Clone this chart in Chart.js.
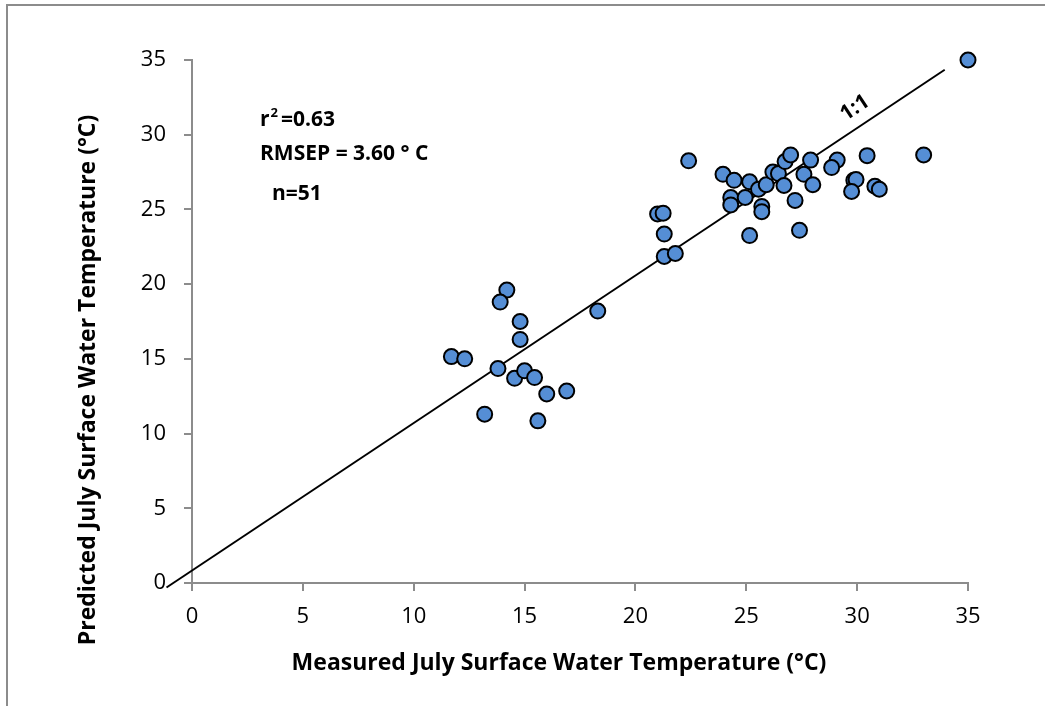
<!DOCTYPE html>
<html>
<head>
<meta charset="utf-8">
<script src="https://cdn.jsdelivr.net/npm/chart.js@4.4.1/dist/chart.umd.min.js"></script>
<style>
  html, body { margin: 0; padding: 0; background: #fff; }
  #frame { position: absolute; left: 6px; top: 4px; width: 1100px; height: 800px;
           border-left: 2px solid #8c8c8c; border-top: 2px solid #8c8c8c; }
  #wrap { position: absolute; left: 0; top: 0; width: 1045px; height: 706px; }
</style>
</head>
<body>
<div id="frame"></div>
<div id="wrap"><canvas id="canvas_scatter" width="1045" height="706"></canvas></div>
<script>
// measured vs predicted July surface water temperature (°C)
const measured = [
  14.2, 13.9, 14.8, 14.8, 11.7, 12.3, 13.8, 14.55, 15.0, 15.45, 16.0, 16.9, 13.2, 15.6, 18.3,
  22.4, 23.95, 24.45, 25.15, 24.3, 24.3, 24.95, 25.55, 25.9, 26.2, 26.45, 26.75, 27.0, 26.7,
  25.7, 25.7, 27.2, 27.6, 27.9, 28.0, 29.1, 28.85, 30.45, 29.85, 29.95, 29.75, 30.8, 31.0,
  33.0, 21.0, 21.25, 21.3, 21.3, 21.8, 25.15, 27.4, 35.0
];
const predicted = [
  19.6, 18.8, 17.5, 16.3, 15.15, 15.0, 14.35, 13.7, 14.2, 13.75, 12.65, 12.85, 11.3, 10.85, 18.2,
  28.25, 27.35, 26.95, 26.85, 25.8, 25.3, 25.8, 26.35, 26.65, 27.5, 27.4, 28.2, 28.65, 26.6,
  25.2, 24.85, 25.6, 27.35, 28.3, 26.65, 28.3, 27.8, 28.6, 26.95, 27.0, 26.2, 26.55, 26.35,
  28.65, 24.7, 24.75, 23.35, 21.85, 22.05, 23.25, 23.6, 35.0
];
// hand drawn 1:1 reference line (end points)
const lineX = [-1.15, 33.95];
const lineY = [-0.3, 34.35];
const tickStep = 5;
const axisMin = 0;
const axisMax = 35;
const xTitle = "Measured July Surface Water Temperature (°C)";
const yTitle = "Predicted July Surface Water Temperature (°C)";
const statsText = ["=0.63", "RMSEP = 3.60 ° C", "n=51"];

const FONT = "'Open Sans', 'Noto Sans', sans-serif";

// axis titles + text boxes (r², RMSEP, n, 1:1 label)
const textBoxes = {
  id: "textBoxes",
  afterDatasetsDraw(chart) {
    const ctx = chart.ctx;
    ctx.save();
    ctx.fillStyle = "#000";
    ctx.textBaseline = "alphabetic";
    ctx.font = "bold 21px " + FONT;
    ctx.fillText("r", 260, 126);
    let w = ctx.measureText("r").width;
    ctx.font = "bold 13px " + FONT;
    ctx.fillText("2", 260 + w + 1, 117);
    let w2 = ctx.measureText("2").width;
    ctx.font = "bold 21px " + FONT;
    ctx.fillText(statsText[0], 260 + w + w2 + 4, 126);
    ctx.fillText(statsText[1], 260, 160);
    ctx.fillText(statsText[2], 272, 200);

    // axis titles
    ctx.font = "bold 23px " + FONT;
    ctx.textAlign = "center";
    ctx.textBaseline = "middle";
    ctx.fillText(xTitle, 559, 663);
    ctx.save();
    ctx.translate(88, 380);
    ctx.rotate(-Math.PI / 2);
    ctx.fillText(yTitle, 0, 0);
    ctx.restore();

    ctx.font = "bold 21px " + FONT;
    ctx.translate(855, 108);
    ctx.rotate(-33.7 * Math.PI / 180);
    ctx.fillText("1:1", 0, 0);
    ctx.restore();
  }
};

const points = measured.map((x, i) => ({ x: x, y: predicted[i] }));
const linePts = lineX.map((x, i) => ({ x: x, y: lineY[i] }));

const ctx = document.getElementById("canvas_scatter");
const myChart = new Chart(ctx, {
  type: "scatter",
  data: {
    datasets: [
      {
        type: "line",
        data: linePts,
        borderColor: "#000",
        borderWidth: 2,
        pointRadius: 0,
        fill: false,
        clip: false,
        order: 2
      },
      {
        data: points,
        backgroundColor: "#558ed5",
        borderColor: "#000",
        borderWidth: 2,
        pointRadius: 7.5,
        pointHoverRadius: 7.5,
        clip: false,
        order: 1
      }
    ]
  },
  options: {
    responsive: false,
    animation: false,
    layout: { padding: { top: 60, right: 77, left: 0, bottom: 0 } },
    plugins: { legend: { display: false }, tooltip: { enabled: false } },
    scales: {
      x: {
        type: "linear",
        min: axisMin,
        max: axisMax,
        afterFit(s) { s.height = 123; },
        ticks: { stepSize: tickStep, color: "#000", padding: 13,
                 font: { family: FONT, size: 22 } },
        grid: { drawOnChartArea: false, color: "#8c8c8c", lineWidth: 2, tickLength: 8 },
        border: { color: "#8c8c8c", width: 2 },
        title: { display: false }
      },
      y: {
        type: "linear",
        min: axisMin,
        max: axisMax,
        afterFit(s) { s.width = 192; },
        ticks: { stepSize: tickStep, color: "#000", padding: 18,
                 font: { family: FONT, size: 22 } },
        grid: { drawOnChartArea: false, color: "#8c8c8c", lineWidth: 2, tickLength: 8 },
        border: { color: "#8c8c8c", width: 2 },
        title: { display: false }
      }
    }
  },
  plugins: [textBoxes]
});
</script>
</body>
</html>
